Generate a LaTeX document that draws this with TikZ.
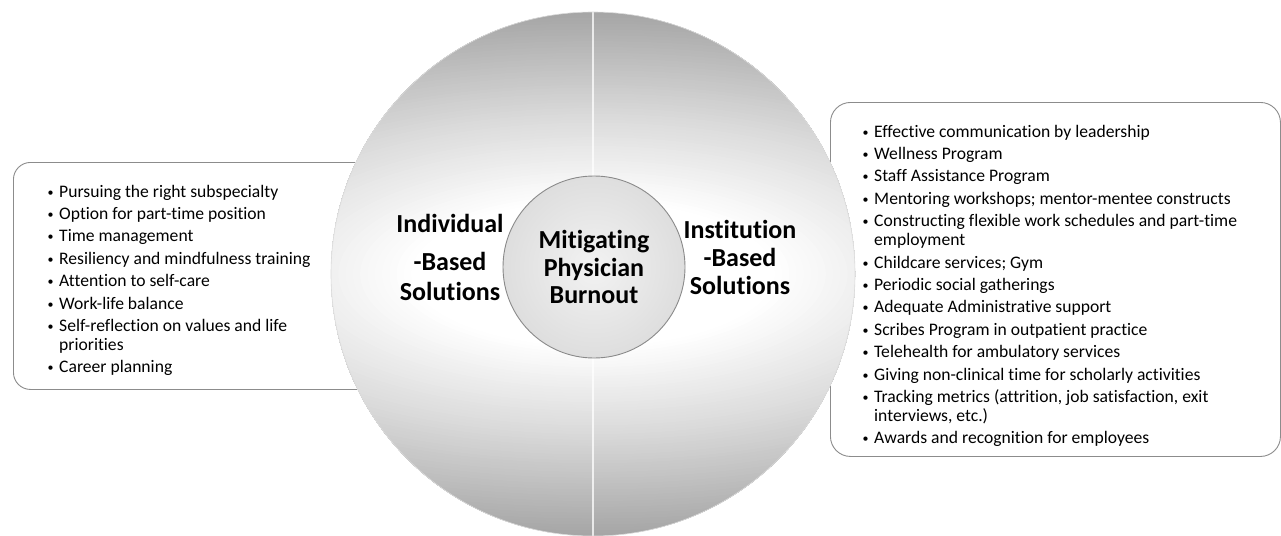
\documentclass[tikz,border=0pt]{standalone}
\usepackage{fontspec}
\setmainfont{Carlito}[Ligatures=NoCommon]
\definecolor{boxline}{HTML}{8C8C8C}
\definecolor{innerline}{HTML}{8A8A8A}
\newcommand\bul[1]{\par\hangindent=13pt\hangafter=1\noindent\makebox[13pt][l]{\hspace{1.5pt}\raisebox{1pt}{\fontsize{12}{12}\selectfont •}}#1}
\newcommand\cont{\hfil\break}
\tikzset{
  listbox/.style={draw=boxline, line width=0.9pt, fill=white, anchor=north west, inner sep=0pt},
  listtext/.style={anchor=base west, inner sep=0pt, font=\fontsize{17.6}{19}\selectfont},
  biglabel/.style={align=center, inner sep=0pt},
  divider/.style={draw=white, line width=1.6pt, opacity=0.75}
}
\begin{document}
\begin{tikzpicture}[x=1pt,y=-1pt]
\useasboundingbox (0,0) rectangle (1281,535);
% boxes
\node[listbox, rounded corners=17pt, minimum width=400pt, minimum height=227pt] (lbox) at (13,162) {};
\node[listbox, rounded corners=20pt, minimum width=450pt, minimum height=354pt] (rbox) at (830,102) {};
% big circle, shaded with stepped ellipses
\coordinate (bigc) at (593,274);
\coordinate (divtop) at (593,0);
\coordinate (divbot) at (593,540);
\begin{scope}
  \clip (bigc) circle[radius=262pt];
  \foreach \k in {0,...,90}{
    \pgfmathsetmacro\t{1-\k/90}
    \pgfmathsetmacro\g{\t<0.28 ? 0 : (\t<0.62 ? (\t-0.28)/0.34*15 : 15+(\t-0.62)/0.38*20)}
    \fill[black!\g] (bigc) ellipse[x radius={2.5*262*\t pt}, y radius={262*\t pt}];
  }
  \draw[divider] (divtop) -- (divbot);
\end{scope}
\draw[black!14, line width=0.6pt] (bigc) circle[radius=262pt];
% centre
\node[circle, draw=innerline, line width=0.9pt, minimum size=182pt, inner sep=0pt,
      inner color=black!5, outer color=black!13, align=center,
      font=\fontsize{26}{27.5}\selectfont\bfseries] (mid) at (594,267) {Mitigating\\Physician\\Burnout};
\node[biglabel, font=\fontsize{26}{30}\selectfont\bfseries] (indiv) at (450,257) {Individual\\[8pt]-Based\\Solutions};
\node[biglabel, font=\fontsize{26}{28}\selectfont\bfseries] (inst) at (740,257) {Institution\\-Based\\Solutions};
% lists
\node[listtext] (ltext) at (46,197) {\parbox[t]{300pt}{\raggedright\parskip=3.4pt
\bul{Pursuing the right subspecialty}
\bul{Option for part-time position}
\bul{Time management}
\bul{Resiliency and mindfulness training}
\bul{Attention to self-care}
\bul{Work-life balance}
\bul{Self-reflection on values and life\cont priorities}
\bul{Career planning}}};
\node[listtext] (rtext) at (861,137) {\parbox[t]{410pt}{\raggedright\parskip=3.4pt
\bul{Effective communication by leadership}
\bul{Wellness Program}
\bul{Staff Assistance Program}
\bul{Mentoring workshops; mentor-mentee constructs}
\bul{Constructing flexible work schedules and part-time\cont employment}
\bul{Childcare services; Gym}
\bul{Periodic social gatherings}
\bul{Adequate Administrative support}
\bul{Scribes Program in outpatient practice}
\bul{Telehealth for ambulatory services}
\bul{Giving non-clinical time for scholarly activities}
\bul{Tracking metrics (attrition, job satisfaction, exit\cont interviews, etc.)}
\bul{Awards and recognition for employees}}};
\end{tikzpicture}
\end{document}
